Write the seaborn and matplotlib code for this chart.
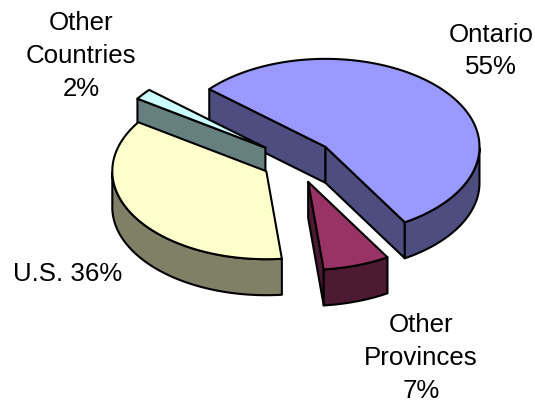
import numpy as np
import matplotlib
matplotlib.use("Agg")
import matplotlib.pyplot as plt
import seaborn as sns

# Revenue share by region, clockwise from the back-left of the pie
regions = ["Ontario", "Other Provinces", "U.S.", "Other Countries"]
shares = [55, 7, 36, 2]
label_texts = ["Ontario\n55%", "Other\nProvinces\n7%", "U.S. 36%", "Other\nCountries\n2%"]
top_colors = ["#9999FF", "#993366", "#FFFFCC", "#CCFFFF"]
side_colors = ["#4D4D80", "#4D1A33", "#808066", "#668080"]
explode = [0.25, 0.25, 0.225, 0.25]
label_positions = [(491, 51), (421, 358), (67.5, 274), (81, 56)]

sns.set_theme(style="white")
plt.rcParams["font.family"] = ["Liberation Sans", "DejaVu Sans"]

# Projection of the tilted disc, in pixel units
CENTER = np.array([296.0, 162.0])
RX, RY = 154.0, 88.0
DEPTH = 36.0
START_ANGLE = 139.0
EDGE = dict(edgecolor="black", linewidth=1.5, joinstyle="round")


def rim(theta_deg):
    t = np.radians(theta_deg)
    return np.column_stack([RX * np.cos(t), -RY * np.sin(t)])


def draw_slice(ax, start, sweep, pull, top, side, order):
    mid = start - sweep / 2
    apex = CENTER + pull * rim(np.array([mid]))[0]
    arc = np.linspace(start, start - sweep, max(int(sweep), 4))
    outer = apex + rim(arc)
    drop = np.array([0.0, DEPTH])

    # Radial cut faces show only when they turn toward the viewer
    for end, sign in ((outer[0], -1), (outer[-1], 1)):
        d = end - apex
        if sign * d[0] > 0:
            quad = np.array([apex, end, end + drop, apex + drop])
            ax.fill(quad[:, 0], quad[:, 1], facecolor=side, zorder=order, **EDGE)

    # Outer wall along the front half of the rim
    front = outer[np.sin(np.radians(arc)) <= 0]
    if len(front) > 1:
        wall = np.vstack([front, (front + drop)[::-1]])
        ax.fill(wall[:, 0], wall[:, 1], facecolor=side, zorder=order, **EDGE)

    face = np.vstack([apex, outer])
    ax.fill(face[:, 0], face[:, 1], facecolor=top, zorder=order + 0.5, **EDGE)


fig = plt.figure(figsize=(5.35, 4.02), dpi=100, facecolor="white")
ax = fig.add_axes([0, 0, 1, 1])
ax.set_xlim(0, 535)
ax.set_ylim(402, 0)
ax.axis("off")

sweeps = np.array(shares) / sum(shares) * 360
starts = START_ANGLE - np.concatenate([[0], np.cumsum(sweeps)[:-1]])

# The U.S. slice overlaps the thin slice behind it, so it goes last
paint_order = {0: 1, 1: 2, 3: 3, 2: 4}
for i, name in enumerate(regions):
    draw_slice(ax, starts[i], sweeps[i], explode[i], top_colors[i], side_colors[i], paint_order[i])

for text, (x, y) in zip(label_texts, label_positions):
    ax.text(x, y, text, ha="center", va="center", fontsize=18.6,
            color="black", linespacing=1.45, multialignment="center")

fig.savefig("out.png", dpi=100, facecolor="white")
